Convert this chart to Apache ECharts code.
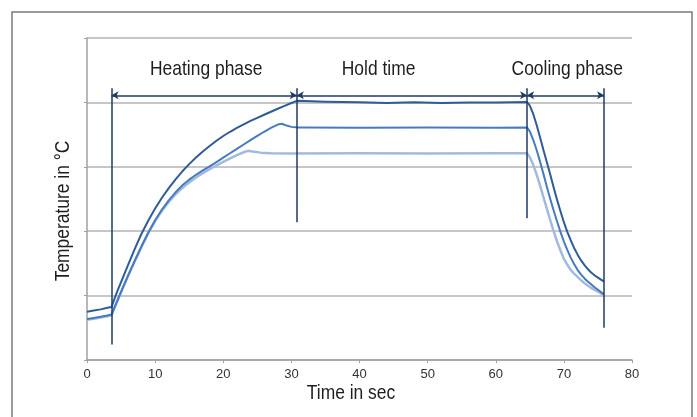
<!DOCTYPE html>
<html>
<head>
<meta charset="utf-8">
<script src="https://cdn.jsdelivr.net/npm/echarts@6/dist/echarts.min.js"></script>
<style>
html, body { margin: 0; padding: 0; background: #fff; }
#main { width: 697px; height: 417px; }
</style>
</head>
<body>
<div id="main"></div>
<script>
// curve data: [time in sec, temperature]
var curveDark = [[0,37.5],[1,38.4],[2,39.3],[3,40.5],[3.6,41.2],[4,47],[4.5,54],[5,60.5],[6,73.5],[7,86],[8,98],[9,108.3],[10,117.6],[11,126],[12,133.5],[13,140.3],[14,146.5],[15,152.1],[16,157.2],[17,161.9],[18,166.2],[19,170.2],[20,173.9],[21,177.2],[22,180.2],[23,183],[24,185.6],[25,188],[26,190.4],[27,192.75],[28,195.05],[29,197.3],[30,199.5],[30.8,201.2],[32,201],[35,200.5],[40,200.2],[44,199.6],[48,200.1],[52,199.5],[56,199.9],[60,200],[64.6,200.3],[65,197.5],[65.5,191],[66,182.5],[66.5,173],[67,163],[67.5,153.5],[68,144],[68.5,134],[69,124.5],[69.5,115.5],[70,107],[70.5,99.5],[71,93],[71.5,87],[72,82],[72.5,77.5],[73,73.8],[73.5,70.6],[74,68],[74.5,65.8],[75,64],[75.5,62.2],[75.9,60.8]];
var curveMedium = [[0,31.8],[1,32.6],[2,33.5],[3,34.5],[3.6,35.3],[4,40.5],[5,53],[6,65.3],[7,77],[8,88.3],[9,99],[10,108.5],[11,116.8],[12,124],[13,130.2],[14,135.6],[15,140],[16,143.8],[17,147.2],[18,150.4],[19,153.7],[20,157.1],[21,160.5],[22,163.9],[23,167.3],[24,170.7],[25,174],[26,177.2],[27,180.2],[28,182.8],[28.6,183.4],[29.3,182],[30,181],[31,180.5],[32,180.6],[40,180.4],[50,180.5],[60,180.3],[64.6,180.5],[65,177.5],[65.5,171],[66,163],[66.5,154],[67,144.5],[67.5,134.5],[68,125],[68.5,116],[69,107.5],[69.5,99.5],[70,92],[70.5,85.5],[71,79.5],[71.5,74.5],[72,70],[72.5,66.5],[73,63.5],[73.5,61],[74,58.8],[74.5,56.5],[75,54.5],[75.5,52.5],[75.9,50.8]];
var curveLight = [[0,31.2],[1,32],[2,33],[3,34],[3.6,34.8],[4,40],[5,52.5],[6,64.8],[7,76.5],[8,87.8],[9,98.5],[10,107.8],[11,115.8],[12,122.7],[13,128.6],[14,133.6],[15,137.9],[16,141.7],[17,145.1],[18,148.2],[19,151.1],[20,153.9],[21,156.5],[22,159],[23,161.3],[23.6,162.4],[24.3,161.8],[25.5,161],[27,160.6],[30,160.4],[40,160.6],[50,160.3],[60,160.5],[64.6,160.5],[65,157.5],[65.5,151.5],[66,144],[66.5,135.5],[67,126.5],[67.5,117.5],[68,108.5],[68.5,100],[69,92],[69.5,85],[70,78.5],[70.5,74],[71,70],[71.5,67],[72,64.5],[72.5,62],[73,59.8],[73.5,57.8],[74,56],[74.5,54.4],[75,53],[75.5,51.6],[75.9,50.5]];

// phase markers
var phaseBounds = [3.6, 30.8, 64.6, 75.9];
var boundTop = 211;
var boundBottom = [12, 107, 110, 25];
var arrowLevel = 205.5;
var phaseNames = ['Heating phase', 'Hold time', 'Cooling phase'];
var phaseLabelX = [17.5, 42.8, 70.5];
var phaseLabelY = 226;

var xTitle = 'Time in sec';
var yTitle = 'Temperature in °C';

var font = "'Liberation Sans', Arial, sans-serif";
var navy = '#1f3a63';
var squeeze = 0.83;   // condensed look

var myChart = echarts.init(document.getElementById('main'));

var markData = [];
for (var i = 0; i < phaseBounds.length; i++) {
    markData.push([{ coord: [phaseBounds[i], boundTop], symbol: 'none' },
                   { coord: [phaseBounds[i], boundBottom[i]], symbol: 'none' }]);
}
for (var j = 0; j < phaseBounds.length - 1; j++) {
    markData.push([{ coord: [phaseBounds[j], arrowLevel] },
                   { coord: [phaseBounds[j + 1], arrowLevel] }]);
}

function curve(name, data, color, width, z) {
    return {
        name: name,
        type: 'line',
        data: data,
        showSymbol: false,
        lineStyle: { color: color, width: width, join: 'round' },
        z: z
    };
}

var option = {
    animation: false,
    grid: { left: 87, right: 65, top: 38, bottom: 57 },
    xAxis: {
        type: 'value',
        min: 0, max: 80, interval: 10,
        axisLine: { lineStyle: { color: '#a0a0a0', width: 1.5 } },
        axisTick: { show: true, length: 3, lineStyle: { color: '#a0a0a0' } },
        axisLabel: { fontFamily: font, fontSize: 13, color: '#333', margin: 8 },
        splitLine: { show: false }
    },
    yAxis: {
        type: 'value',
        min: 0, max: 250, interval: 50,
        axisLine: { show: true, lineStyle: { color: '#a0a0a0', width: 1.5 } },
        axisTick: { show: true, length: 3, lineStyle: { color: '#a0a0a0' } },
        axisLabel: { show: false },
        splitLine: { show: true, lineStyle: { color: '#b5b5b5', width: 1.5 } }
    },
    series: [
        curve('light', curveLight, '#a3bade', 2.5, 2),
        curve('medium', curveMedium, '#457bbf', 2, 3),
        curve('dark', curveDark, '#2f5c97', 2, 4),
        {
            name: 'markers',
            type: 'line',
            data: [],
            z: 5,
            markLine: {
                silent: true,
                symbol: ['arrow', 'arrow'],
                symbolSize: [6, 7],
                label: { show: false },
                lineStyle: { color: navy, width: 1.5, type: 'solid' },
                emphasis: { disabled: true },
                data: markData
            }
        }
    ]
};
myChart.setOption(option);

// text: outer frame, axis titles and phase names
function label(text, x, y, rot) {
    return {
        type: 'text',
        x: x, y: y,
        rotation: rot || 0,
        scaleX: squeeze,
        silent: true,
        style: {
            text: text,
            x: 0, y: 0,
            align: 'center',
            verticalAlign: 'middle',
            font: '21px ' + font,
            fill: '#1e1e1e'
        }
    };
}

var graphics = [{
    type: 'rect',
    shape: { x: 12, y: 12, width: 680, height: 430 },
    style: { fill: 'none', stroke: '#7a7a7a', lineWidth: 1.5 },
    silent: true
}];
graphics.push(label(xTitle, 351, 393));
graphics.push(label(yTitle, 63, 211, Math.PI / 2));
for (var k = 0; k < phaseNames.length; k++) {
    var p = myChart.convertToPixel({ gridIndex: 0 }, [phaseLabelX[k], phaseLabelY]);
    graphics.push(label(phaseNames[k], p[0], p[1]));
}
myChart.setOption({ graphic: graphics });
</script>
</body>
</html>
